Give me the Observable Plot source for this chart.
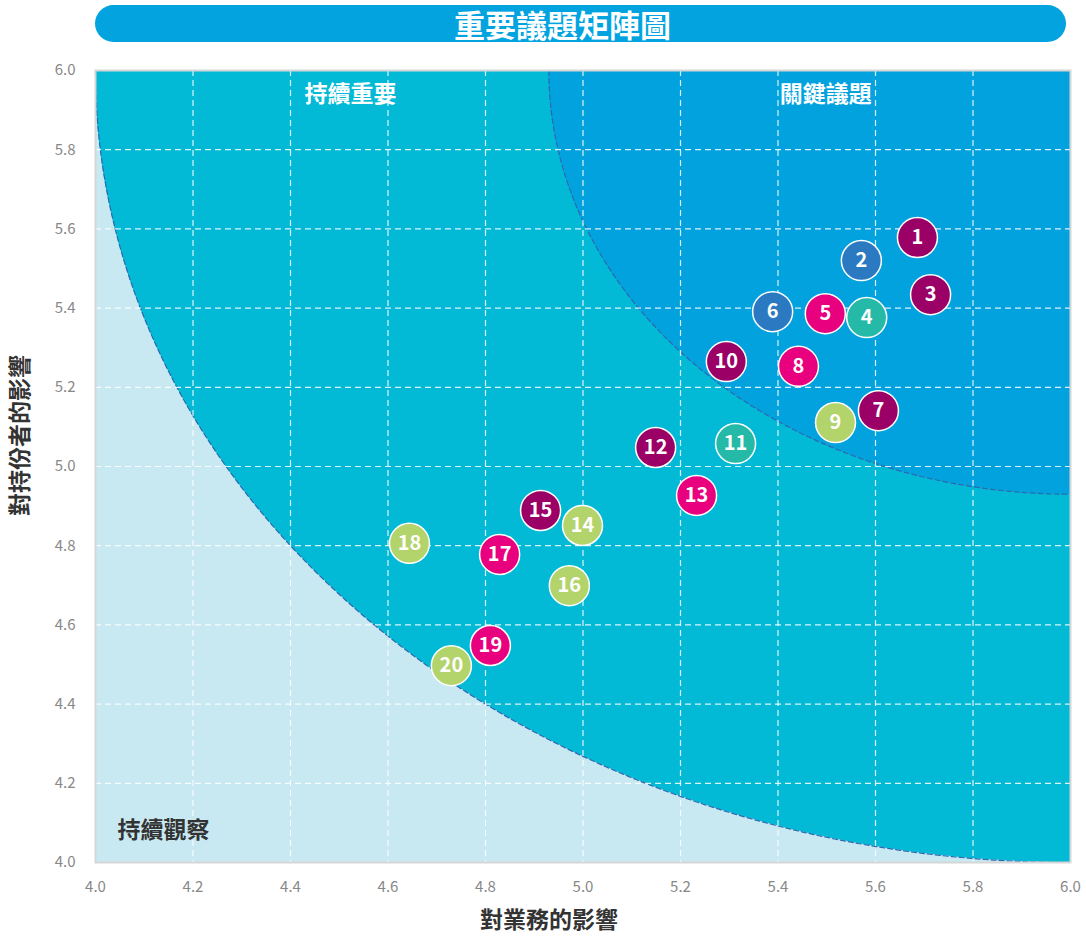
<!DOCTYPE html>
<html>
<head>
<meta charset="utf-8">
<script src="https://cdn.jsdelivr.net/npm/d3@7"></script>
<script src="https://cdn.jsdelivr.net/npm/@observablehq/plot@0.6"></script>
<style>
  body { margin: 0; background: #fff; font-family: "Noto Sans CJK TC", "Noto Sans", sans-serif; }
  #title {
    margin: 5px 0 0 95px; width: 971px; height: 37px; border-radius: 19px;
    background: #02a3df; color: #fff; font-weight: 700; font-size: 31px;
    line-height: 37px; text-align: center; box-sizing: border-box; padding-right: 36px;
  }
  #chart svg { display: block; margin-top: 5px; }
</style>
</head>
<body>
<div id="title">重要議題矩陣圖</div>
<div id="chart"></div>
<script>
// Issue ratings: impact on business (x) and on stakeholders (y)
const issueIds = [1, 2, 3, 4, 5, 6, 7, 8, 9, 10, 11, 12, 13, 14, 15, 16, 17, 18, 19, 20];
const businessImpact = [5.686, 5.571, 5.713, 5.582, 5.497, 5.389, 5.606, 5.442, 5.518, 5.294,
                        5.313, 5.149, 5.233, 4.999, 4.913, 4.972, 4.829, 4.644, 4.810, 4.730];
const stakeholderImpact = [5.578, 5.520, 5.434, 5.376, 5.386, 5.391, 5.141, 5.253, 5.111, 5.265,
                           5.058, 5.048, 4.927, 4.851, 4.889, 4.699, 4.778, 4.806, 4.548, 4.497];
const issueGroup = ["p", "b", "p", "t", "m", "b", "p", "m", "g", "p",
                    "t", "p", "m", "g", "p", "g", "m", "g", "m", "g"];
const groupColors = {p: "#9a0066", m: "#e8007e", b: "#2b79c0", t: "#25b9a8", g: "#b3d36b"};

const ticks = [4.0, 4.2, 4.4, 4.6, 4.8, 5.0, 5.2, 5.4, 5.6, 5.8, 6.0];
const gridTicks = [4.2, 4.4, 4.6, 4.8, 5.0, 5.2, 5.4, 5.6, 5.8];

// Zone boundaries: quarter arcs around the (6, 6) corner
const outerRadius = 2.0;
const innerRadius = 1.07;
const zoneLabels = [
  {x: 4.523, y: 5.94, text: "持續重要", color: "#fff", anchor: "middle"},
  {x: 5.498, y: 5.94, text: "關鍵議題", color: "#fff", anchor: "middle"},
  {x: 4.045, y: 4.08, text: "持續觀察", color: "#333", anchor: "start"}
];

function arc(r) {
  const pts = [];
  for (let i = 0; i <= 180; i++) {
    const t = (i / 180) * Math.PI / 2;
    pts.push({x: 6 - r * Math.cos(t), y: 6 - r * Math.sin(t)});
  }
  return pts;
}

const issues = issueIds.map((id, i) => ({
  id, x: businessImpact[i], y: stakeholderImpact[i], color: groupColors[issueGroup[i]]
}));

const font = "Noto Sans CJK TC";
const chart = Plot.plot({
  width: 1086,
  height: 889,
  marginTop: 23,
  marginBottom: 74,
  marginLeft: 95,
  marginRight: 16,
  style: {fontFamily: font, background: "transparent"},
  x: {domain: [4, 6]},
  y: {domain: [4, 6]},
  marks: [
    Plot.rect([0], {x1: 4, x2: 6, y1: 4, y2: 6, fill: "#c8e9f1"}),
    Plot.areaY(arc(outerRadius), {x: "x", y1: "y", y2: 6, fill: "#03bad6"}),
    Plot.areaY(arc(innerRadius), {x: "x", y1: "y", y2: 6, fill: "#02a2df"}),
    Plot.line(arc(outerRadius), {x: "x", y: "y", stroke: "#2d69b0", strokeWidth: 1.2, strokeDasharray: "5,3"}),
    Plot.line(arc(innerRadius), {x: "x", y: "y", stroke: "#2d69b0", strokeWidth: 1.2, strokeDasharray: "5,3"}),
    Plot.ruleX(gridTicks, {stroke: "#fff", strokeOpacity: 0.85, strokeWidth: 1.2, strokeDasharray: "6,4"}),
    Plot.ruleY(gridTicks, {stroke: "#fff", strokeOpacity: 0.85, strokeWidth: 1.2, strokeDasharray: "6,4"}),
    Plot.frame({stroke: "#d6d6d6", strokeWidth: 2}),
    Plot.axisX({ticks, tickFormat: d3.format(".1f"), tickSize: 0, tickPadding: 19, fontSize: 15, color: "#888", label: null}),
    Plot.axisY({ticks, tickFormat: d3.format(".1f"), tickSize: 0, tickPadding: 20, fontSize: 15, color: "#888", label: null}),
    Plot.text(zoneLabels.filter(d => d.anchor === "middle"), {x: "x", y: "y", text: "text", fill: "color", fontSize: 23, fontWeight: "bold", textAnchor: "middle"}),
    Plot.text(zoneLabels.filter(d => d.anchor === "start"), {x: "x", y: "y", text: "text", fill: "color", fontSize: 23, fontWeight: "bold", textAnchor: "start"}),
    Plot.text(["對業務的影響"], {frameAnchor: "bottom", dx: -34, dy: 58, fontSize: 23, fontWeight: "bold", fill: "#333", textAnchor: "middle", lineAnchor: "middle"}),
    Plot.text(["對持份者的影響"], {frameAnchor: "left", dx: -75, dy: -31, rotate: -90, fontSize: 23, fontWeight: "bold", fill: "#333", textAnchor: "middle", lineAnchor: "middle"}),
    Plot.dot(issues, {x: "x", y: "y", r: 20, fill: "color", stroke: "#fff", strokeWidth: 1.5}),
    Plot.text(issues, {x: "x", y: "y", text: "id", fill: "#fff", fontSize: 20, fontWeight: "bold"})
  ]
});
document.getElementById("chart").appendChild(chart);
</script>
</body>
</html>
